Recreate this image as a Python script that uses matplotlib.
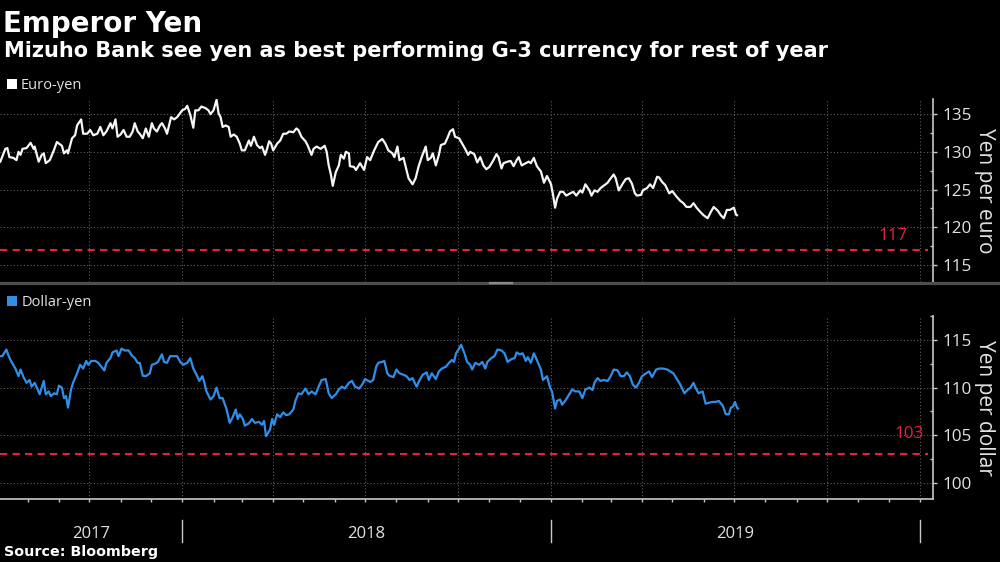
import matplotlib.pyplot as plt
import matplotlib.dates as mdates
from matplotlib.patches import Rectangle
from matplotlib.lines import Line2D
from matplotlib.ticker import MultipleLocator, NullFormatter
import matplotlib.transforms as mtransforms
import pandas as pd

plt.rcParams['font.family'] = ['Open Sans', 'DejaVu Sans']

# dates are stored as day offsets from this start date
base = pd.Timestamp('2017-07-01')

eur_days = [4, 9, 11, 13, 17, 20, 22, 24, 26, 30, 34, 37, 38, 42, 45, 47, 49, 53, 57, 60,
            65, 67, 70, 71, 75, 78, 80, 84, 86, 90, 93, 96, 100, 103, 106, 109, 113, 115, 118, 120,
            123, 126, 129, 132, 135, 137, 140, 142, 145, 148, 151, 154, 156, 159, 162, 164, 167, 169, 173, 176,
            179, 184, 187, 189, 192, 195, 197, 200, 203, 207, 210, 212, 215, 218, 220, 222, 224, 227, 230, 232,
            235, 238, 241, 243, 246, 250, 252, 255, 258, 261, 263, 266, 268, 270, 272, 274, 278, 281, 284, 287,
            290, 294, 297, 299, 302, 306, 308, 312, 314, 317, 321, 325, 327, 329, 331, 333, 336, 339, 341, 344,
            346, 349, 350, 354, 356, 360, 364, 367, 370,
            374, 378, 382, 385, 388, 392, 394, 397, 399, 403, 405, 408, 412, 415, 418, 421, 425, 427, 430, 432,
            435, 438, 440, 444, 447, 449, 452, 454, 458, 461, 464, 467, 469, 473, 476, 479, 482, 485, 488, 492,
            495, 497, 500, 502, 506, 509, 512, 515, 517, 520, 524, 527, 529, 532, 535, 539, 542, 545, 549, 551,
            553, 555, 558, 561, 564, 568, 571, 574, 578, 580, 583, 587, 589, 592, 595, 598, 601, 605, 607, 611,
            613, 616, 620, 623, 626, 629, 632, 634, 638, 640, 644, 647, 650, 654, 656, 659, 662, 666, 669, 673,
            677, 680, 683, 687, 690, 693, 697, 700, 704, 707, 710, 714, 717, 720, 723, 726, 730, 732, 733]
eur_vals = [128.7, 130.4, 130.5, 129.3, 129.2, 128.9, 130.0, 129.6, 130.4, 130.5, 131.2, 130.4, 130.7, 128.7, 129.6, 129.8, 128.5, 128.9, 130.2, 131.3,
            130.8, 129.8, 130.2, 129.8, 131.8, 132.2, 133.5, 134.3, 132.4, 132.4, 132.9, 132.2, 132.4, 133.3, 132.2, 132.7, 133.8, 133.1, 134.3, 132.0,
            132.3, 132.9, 132.0, 132.0, 132.7, 133.8, 132.7, 132.4, 131.8, 133.1, 132.0, 133.8, 133.1, 132.7, 133.5, 133.8, 133.1, 132.4, 134.6, 134.3,
            134.6, 135.5, 135.7, 136.1, 134.9, 133.2, 135.5, 135.5, 136.0, 135.8, 135.5, 135.0, 135.5, 136.9, 135.1, 134.6, 133.3, 133.5, 133.3, 132.0,
            132.3, 132.0, 131.1, 130.2, 130.2, 131.5, 130.8, 132.0, 130.9, 130.5, 130.7, 129.6, 130.4, 131.4, 131.1, 130.2, 131.1, 131.5, 132.4, 132.4,
            132.7, 132.6, 133.1, 132.9, 132.0, 131.4, 130.9, 129.6, 130.4, 130.7, 130.4, 130.8, 130.0, 128.2, 127.1, 125.5, 127.3, 128.2, 129.6, 129.1,
            130.0, 129.8, 128.1, 128.0, 127.6, 128.5, 127.6, 129.3, 128.9,
            130.2, 131.3, 131.7, 131.1, 130.2, 129.8, 129.3, 130.7, 128.9, 129.2, 128.1, 126.5, 125.7, 126.5, 128.1, 129.3, 130.7, 128.9, 129.2, 129.8,
            128.2, 129.6, 130.9, 131.1, 132.0, 132.7, 133.0, 132.0, 131.8, 131.1, 130.4, 129.6, 130.0, 129.7, 128.6, 129.3, 128.2, 127.7, 128.0, 128.9,
            129.7, 129.3, 127.8, 128.5, 128.7, 128.8, 128.1, 128.9, 129.3, 128.2, 128.5, 128.7, 128.5, 129.2, 128.1, 127.4, 125.9, 126.8, 125.7, 124.3,
            122.6, 123.8, 124.7, 124.7, 124.2, 124.5, 124.7, 124.2, 124.9, 124.6, 125.7, 124.9, 124.2, 124.9, 124.7, 125.2, 125.5, 125.9, 126.3, 127.0,
            126.5, 124.9, 125.8, 126.4, 126.5, 125.8, 124.5, 124.2, 124.3, 124.9, 125.2, 125.7, 125.2, 126.7, 126.6, 126.0, 125.6, 124.5, 124.8, 124.1,
            123.5, 123.2, 122.7, 122.7, 123.2, 122.6, 122.0, 121.6, 121.2, 122.0, 122.7, 122.2, 121.6, 121.2, 122.3, 122.3, 122.6, 121.7, 121.6]

usd_days = [4, 6, 10, 12, 15, 19, 22, 24, 27, 30, 33, 35, 38, 41, 43, 47, 49, 52, 54, 57,
            60, 62, 65, 67, 69, 71, 74, 76, 80, 83, 86, 89, 91, 94, 98, 101, 104, 107, 109, 113,
            115, 119, 121, 124, 127, 131, 134, 137, 140, 142, 145, 148, 152, 154, 157, 160, 164, 166, 169, 172,
            175, 179, 182, 185, 189, 192, 195, 198, 201, 204, 206, 208, 212, 215, 218, 221, 224, 228, 231, 234,
            237, 239, 241, 244, 246, 250, 253, 256, 260, 263, 265, 267, 271, 273, 275, 278, 281, 284, 287, 290,
            294, 296, 299, 302, 306, 309, 312, 316, 319, 322, 326, 329, 332, 336, 339, 342, 345, 349, 352, 355,
            359, 362, 365, 370,
            373, 376, 378, 382, 384, 387, 389, 393, 396, 399, 403, 406, 409, 412, 415, 416, 419, 422, 426, 428,
            431, 435, 438, 441, 445, 448, 451, 453, 455, 458, 460, 463, 466, 469, 471, 474, 478, 481, 484, 486,
            490, 493, 496, 500, 503, 506, 510, 513, 515, 518, 521, 524, 526, 529, 532, 535, 539, 541, 545, 548,
            550, 553, 555, 558, 560, 563, 567, 570, 573, 577, 580, 583, 587, 590, 592, 595, 598, 601, 605, 608,
            611, 615, 618, 621, 624, 627, 630, 633, 636, 639, 643, 646, 649, 653, 656, 660, 664, 667, 670, 673,
            677, 681, 684, 687, 690, 692, 695, 699, 702, 705, 709, 712, 715, 719, 722, 725, 727, 729, 731, 733, 734]
usd_vals = [113.3, 113.3, 114.0, 113.4, 112.7, 112.0, 111.2, 111.9, 111.1, 110.5, 110.8, 110.1, 110.5, 109.8, 109.3, 110.7, 109.3, 109.6, 109.1, 109.4,
            109.3, 110.2, 110.0, 108.9, 109.1, 107.9, 109.8, 110.5, 111.5, 112.4, 112.0, 112.8, 112.4, 112.8, 112.8, 112.6, 112.2, 111.8, 112.6, 113.1,
            113.7, 113.9, 113.3, 114.1, 113.9, 113.9, 113.4, 113.1, 112.6, 112.6, 111.25, 111.2, 111.5, 112.4, 112.5, 112.7, 113.5, 112.7, 112.6, 113.3,
            113.3, 113.3, 112.7, 112.4, 112.6, 113.1, 112.0, 111.4, 110.7, 111.2, 110.5, 109.6, 108.75, 109.1, 110.0, 108.9, 108.9, 107.7, 106.3, 106.9,
            107.7, 106.7, 107.2, 106.7, 106.0, 106.25, 106.7, 106.3, 106.4, 106.1, 106.5, 104.9, 105.6, 106.7, 106.1, 107.2, 106.9, 107.4, 107.1, 107.2,
            107.7, 108.6, 109.4, 109.3, 109.9, 109.3, 109.6, 109.3, 110.1, 110.8, 110.9, 109.4, 108.9, 109.3, 109.8, 110.1, 109.9, 110.5, 110.7, 110.1,
            109.9, 110.3, 110.9, 110.6,
            110.8, 112.2, 112.6, 112.7, 112.8, 111.5, 111.25, 111.1, 111.9, 111.5, 111.35, 111.2, 110.8, 111.0, 110.3, 110.1, 110.8, 111.35, 111.6, 110.8,
            111.5, 110.9, 111.7, 112.0, 112.2, 112.6, 112.9, 112.7, 113.6, 114.1, 114.5, 113.7, 112.7, 112.4, 111.9, 112.6, 112.4, 112.7, 112.0, 112.7,
            113.1, 113.3, 114.0, 113.9, 113.6, 112.7, 113.0, 113.1, 113.7, 113.5, 113.6, 112.8, 113.2, 112.6, 113.6, 112.9, 111.9, 110.8, 111.2, 110.0,
            109.6, 107.8, 108.6, 108.75, 108.2, 108.6, 109.3, 109.8, 109.6, 109.6, 108.9, 109.8, 110.0, 109.75, 110.5, 111.0, 110.7, 110.8, 110.7, 111.2,
            111.9, 111.8, 111.2, 111.2, 111.6, 111.2, 110.3, 110.0, 110.5, 111.2, 111.5, 111.7, 111.1, 111.9, 112.0, 112.0, 111.9, 111.7, 111.5, 111.0,
            110.3, 109.4, 109.75, 110.0, 110.5, 110.0, 109.4, 109.6, 108.3, 108.4, 108.5, 108.5, 108.6, 108.1, 107.2, 107.2, 107.9, 108.0, 108.5, 107.9, 107.8]

eur_target = 117
usd_target = 103
eur_ticks = [115, 120, 125, 130, 135]
usd_ticks = [100, 105, 110, 115]
years = [2017, 2018, 2019]

red = '#e0213f'
grid_c = '#5e5e5e'
axis_c = '#c8c8c8'
text_c = '#e2e2e2'

eur_dates = base + pd.to_timedelta(eur_days, unit='D')
usd_dates = base + pd.to_timedelta(usd_days, unit='D')
x0 = pd.Timestamp('2017-07-04 17:00')
x1 = pd.Timestamp('2020-01-14')

fig = plt.figure(figsize=(10, 5.62), dpi=100, facecolor='black')
ax1 = fig.add_axes([0, 0.4982, 0.933, 0.3256])
ax2 = fig.add_axes([0, 0.1121, 0.933, 0.3256])


def style(ax, ticks, ylim, label):
    ax.set_facecolor('black')
    ax.set_xlim(x0, x1)
    ax.set_ylim(*ylim)
    for s in ['left', 'top', 'bottom']:
        ax.spines[s].set_visible(False)
    ax.spines['right'].set_color(axis_c)
    ax.spines['right'].set_linewidth(1.2)
    ax.yaxis.tick_right()
    ax.set_yticks(ticks)
    ax.yaxis.set_minor_locator(MultipleLocator(2.5))
    ax.tick_params(axis='y', which='major', direction='out', length=3, width=1,
                   colors=axis_c, labelcolor=text_c, labelsize=12.3, pad=3.5)
    ax.tick_params(axis='y', which='minor', direction='in', length=2.5, width=1, colors=axis_c)
    ax.xaxis.set_major_locator(mdates.MonthLocator(bymonth=[1, 4, 7, 10]))
    ax.xaxis.set_minor_locator(mdates.MonthLocator())
    ax.xaxis.set_major_formatter(NullFormatter())
    ax.grid(True, which='major', color=grid_c, linestyle=(0, (1, 2)), linewidth=0.8)
    ax.text(1.0557, 0.5, label, transform=ax.transAxes, rotation=270,
            ha='center', va='center', color=text_c, fontsize=15)


style(ax1, eur_ticks, (112.75, 137.0), 'Yen per euro')
style(ax2, usd_ticks, (98.3, 117.52), 'Yen per dollar')

ax1.tick_params(axis='x', which='both', length=0)
ax2.spines['bottom'].set_visible(True)
ax2.spines['bottom'].set_color(axis_c)
ax2.spines['bottom'].set_linewidth(1.2)
ax2.tick_params(axis='x', which='both', direction='out', length=2.5, width=1, colors=axis_c)

ax1.plot(eur_dates, eur_vals, color='#f5f5f5', lw=1.6)
ax2.plot(usd_dates, usd_vals, color='#2f8fe8', lw=1.6)

dash = (0, (3.5, 2.5))
ax1.axhline(eur_target, xmin=0, xmax=0.995, color=red, lw=1.5, ls=dash)
ax2.axhline(usd_target, xmin=0, xmax=0.995, color=red, lw=1.5, ls=dash)
ax1.text(0.973, eur_target + 1.3, str(eur_target), transform=ax1.get_yaxis_transform(),
         ha='right', va='baseline', color=red, fontsize=12.3)
ax2.text(0.990, usd_target + 1.7, str(usd_target), transform=ax2.get_yaxis_transform(),
         ha='right', va='baseline', color=red, fontsize=12.3)

# year labels and separators under the bottom axis
trans = mtransforms.blended_transform_factory(ax2.transData, ax2.transAxes)
for yr in years + [years[-1] + 1]:
    d = mdates.date2num(pd.Timestamp(f'{yr}-01-01'))
    if yr > years[0]:
        ax2.add_line(Line2D([d, d], [-0.115, -0.235], transform=trans, color=axis_c,
                            lw=1, clip_on=False))
for yr in years:
    a = max(mdates.date2num(pd.Timestamp(f'{yr}-01-01')), mdates.date2num(x0))
    b = min(mdates.date2num(pd.Timestamp(f'{yr + 1}-01-01')), mdates.date2num(x1))
    ax2.text((a + b) / 2, -0.213, str(yr), transform=trans, ha='center', va='baseline',
             color=text_c, fontsize=12)

# panel separator
fig.add_artist(Line2D([0, 1], [0.4956, 0.4956], transform=fig.transFigure, color='#4e4e4e', lw=2.3))
fig.add_artist(Line2D([0.49, 0.512], [0.4956, 0.4956], transform=fig.transFigure, color='#8a8a8a', lw=1.6))

# legend markers
fig.add_artist(Rectangle((0.007, 1 - 89 / 562), 0.0095, 10 / 562, transform=fig.transFigure,
                         facecolor='white', edgecolor='none'))
fig.text(0.021, 1 - 89 / 562, 'Euro-yen', color=text_c, fontsize=10.5, va='baseline')
fig.add_artist(Rectangle((0.007, 1 - 306 / 562), 0.0095, 10 / 562, transform=fig.transFigure,
                         facecolor='#2f8fe8', edgecolor='none'))
fig.text(0.022, 1 - 306 / 562, 'Dollar-yen', color=text_c, fontsize=10.5, va='baseline')

fig.text(0.003, 1 - 32 / 562, 'Emperor Yen', color='white', fontsize=20, fontweight='bold',
         family='DejaVu Sans', va='baseline')
fig.text(0.004, 1 - 57 / 562, 'Mizuho Bank see yen as best performing G-3 currency for rest of year',
         color='white', fontsize=15, fontweight='bold', family='DejaVu Sans', va='baseline')
fig.text(0.004, 1 - 556 / 562, 'Source: Bloomberg', color='white', fontsize=10.3, fontweight='bold',
         family='DejaVu Sans', va='baseline')

fig.savefig('out.png', dpi=100, facecolor='black')
